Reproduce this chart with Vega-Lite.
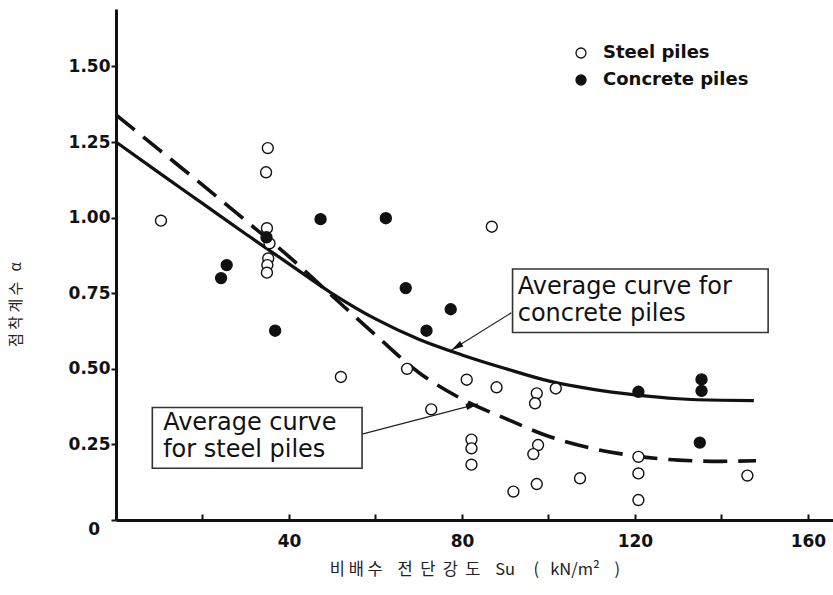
{
  "$schema": "https://vega.github.io/schema/vega-lite/v6.json",
  "width": 717,
  "height": 511,
  "autosize": {"type": "none"},
  "padding": {"left": 116, "top": 9, "right": 0, "bottom": 75},
  "background": "white",
  "config": {
    "view": {"stroke": null},
    "axis": {
      "grid": false,
      "domainColor": "#111",
      "domainWidth": 3,
      "tickColor": "#111",
      "tickWidth": 2,
      "labelFont": "DejaVu Sans",
      "labelFontWeight": "bold",
      "labelFontSize": 17,
      "labelColor": "#111"
    }
  },
  "datasets": {
    "points": [
      {"su": 10.4, "alpha": 0.99, "type": "Steel piles"},
      {"su": 35.1, "alpha": 1.23, "type": "Steel piles"},
      {"su": 34.7, "alpha": 1.15, "type": "Steel piles"},
      {"su": 34.9, "alpha": 0.965, "type": "Steel piles"},
      {"su": 35.5, "alpha": 0.915, "type": "Steel piles"},
      {"su": 35.2, "alpha": 0.865, "type": "Steel piles"},
      {"su": 35.0, "alpha": 0.843, "type": "Steel piles"},
      {"su": 34.9, "alpha": 0.818, "type": "Steel piles"},
      {"su": 52.0, "alpha": 0.473, "type": "Steel piles"},
      {"su": 67.3, "alpha": 0.5, "type": "Steel piles"},
      {"su": 72.9, "alpha": 0.366, "type": "Steel piles"},
      {"su": 81.1, "alpha": 0.464, "type": "Steel piles"},
      {"su": 86.9, "alpha": 0.97, "type": "Steel piles"},
      {"su": 88.0, "alpha": 0.439, "type": "Steel piles"},
      {"su": 82.2, "alpha": 0.266, "type": "Steel piles"},
      {"su": 82.2, "alpha": 0.237, "type": "Steel piles"},
      {"su": 82.2, "alpha": 0.183, "type": "Steel piles"},
      {"su": 97.3, "alpha": 0.419, "type": "Steel piles"},
      {"su": 96.9, "alpha": 0.386, "type": "Steel piles"},
      {"su": 101.7, "alpha": 0.435, "type": "Steel piles"},
      {"su": 97.6, "alpha": 0.248, "type": "Steel piles"},
      {"su": 96.5, "alpha": 0.218, "type": "Steel piles"},
      {"su": 91.9, "alpha": 0.094, "type": "Steel piles"},
      {"su": 97.3, "alpha": 0.119, "type": "Steel piles"},
      {"su": 107.3, "alpha": 0.138, "type": "Steel piles"},
      {"su": 120.8, "alpha": 0.209, "type": "Steel piles"},
      {"su": 120.8, "alpha": 0.154, "type": "Steel piles"},
      {"su": 120.8, "alpha": 0.066, "type": "Steel piles"},
      {"su": 146.0, "alpha": 0.147, "type": "Steel piles"},
      {"su": 24.3, "alpha": 0.8, "type": "Concrete piles"},
      {"su": 25.6, "alpha": 0.843, "type": "Concrete piles"},
      {"su": 34.8, "alpha": 0.935, "type": "Concrete piles"},
      {"su": 36.8, "alpha": 0.626, "type": "Concrete piles"},
      {"su": 47.3, "alpha": 0.995, "type": "Concrete piles"},
      {"su": 62.4, "alpha": 0.998, "type": "Concrete piles"},
      {"su": 67.0, "alpha": 0.767, "type": "Concrete piles"},
      {"su": 71.8, "alpha": 0.626, "type": "Concrete piles"},
      {"su": 77.4, "alpha": 0.697, "type": "Concrete piles"},
      {"su": 120.8, "alpha": 0.424, "type": "Concrete piles"},
      {"su": 135.4, "alpha": 0.465, "type": "Concrete piles"},
      {"su": 135.4, "alpha": 0.427, "type": "Concrete piles"},
      {"su": 135.0, "alpha": 0.256, "type": "Concrete piles"}
    ],
    "concreteCurve": [
      {"su": 0, "alpha": 1.25}, {"su": 10, "alpha": 1.148}, {"su": 20, "alpha": 1.047},
      {"su": 30, "alpha": 0.946}, {"su": 40, "alpha": 0.847}, {"su": 50, "alpha": 0.749},
      {"su": 60, "alpha": 0.665}, {"su": 70, "alpha": 0.598}, {"su": 80, "alpha": 0.546},
      {"su": 90, "alpha": 0.501}, {"su": 100, "alpha": 0.46}, {"su": 110, "alpha": 0.433},
      {"su": 120, "alpha": 0.414}, {"su": 130, "alpha": 0.401}, {"su": 140, "alpha": 0.396},
      {"su": 147.5, "alpha": 0.395}
    ],
    "steelCurve": [
      {"su": 0, "alpha": 1.34}, {"su": 10, "alpha": 1.224}, {"su": 20, "alpha": 1.108},
      {"su": 30, "alpha": 0.99}, {"su": 40, "alpha": 0.871}, {"su": 50, "alpha": 0.741},
      {"su": 60, "alpha": 0.612}, {"su": 70, "alpha": 0.488}, {"su": 80, "alpha": 0.4},
      {"su": 90, "alpha": 0.336}, {"su": 100, "alpha": 0.277}, {"su": 110, "alpha": 0.237},
      {"su": 120, "alpha": 0.212}, {"su": 130, "alpha": 0.198}, {"su": 140, "alpha": 0.194},
      {"su": 148, "alpha": 0.196}
    ],
    "boxes": [
      {"su": 91.7, "su2": 150.8, "alpha": 0.83, "alpha2": 0.62},
      {"su": 8.4, "su2": 56.9, "alpha": 0.372, "alpha2": 0.171}
    ],
    "arrows": [
      {"su": 91.4, "alpha": 0.685, "su2": 77.6, "alpha2": 0.562, "arrow": "concrete"},
      {"su": 56.9, "alpha": 0.284, "su2": 83.7, "alpha2": 0.384, "arrow": "steel"}
    ],
    "heads": [
      {"su": 77.6, "alpha": 0.562, "arrow": "concrete"},
      {"su": 83.7, "alpha": 0.384, "arrow": "steel"}
    ],
    "labels": [
      {"su": 92.9, "alpha": 0.77, "label": "Average curve for"},
      {"su": 92.9, "alpha": 0.681, "label": "concrete piles"},
      {"su": 10.9, "alpha": 0.321, "label": "Average curve"},
      {"su": 10.9, "alpha": 0.231, "label": "for steel piles"}
    ],
    "zero": [
      {"su": 0, "alpha": 0, "label": "0"}
    ]
  },
  "encoding": {
    "x": {
      "field": "su",
      "type": "quantitative",
      "scale": {"domain": [0, 165.8], "nice": false, "zero": false},
      "axis": {
        "title": "비 배 수\u00a0\u00a0\u00a0\u00a0전\u00a0\u00a0단\u00a0\u00a0강\u00a0\u00a0도\u00a0\u00a0\u00a0\u00a0Su\u00a0\u00a0\u00a0\u00a0\u00a0(\u00a0\u00a0\u00a0kN/m²\u00a0\u00a0\u00a0\u00a0)",
        "values": [20, 40, 60, 80, 100, 120, 140, 160],
        "labelExpr": "datum.value % 40 === 0 ? datum.label : ''",
        "tickSize": -6,
        "labelPadding": 19,
        "titleFont": "Noto Sans CJK KR",
        "titleFontSize": 16.5,
        "titleFontWeight": "normal",
        "titleColor": "#222",
        "titlePadding": 12
      }
    },
    "y": {
      "field": "alpha",
      "type": "quantitative",
      "scale": {"domain": [0, 1.69], "nice": false, "zero": false},
      "axis": {
        "title": "점 착 계 수\u00a0\u00a0\u00a0α",
        "values": [0, 0.25, 0.5, 0.75, 1, 1.25, 1.5],
        "labelExpr": "datum.value === 0 ? '' : format(datum.value, '.2f')",
        "tickSize": 5,
        "labelPadding": 1,
        "titleFont": "Noto Sans CJK KR",
        "titleFontSize": 15,
        "titleFontWeight": "normal",
        "titleColor": "#222",
        "titleX": -101,
        "titleY": 295,
        "titleAlign": "center",
        "titleBaseline": "middle"
      }
    }
  },
  "layer": [
    {
      "data": {"name": "concreteCurve"},
      "mark": {"type": "line", "interpolate": "monotone", "color": "#111", "strokeWidth": 3.2}
    },
    {
      "data": {"name": "steelCurve"},
      "mark": {"type": "line", "interpolate": "monotone", "color": "#111", "strokeWidth": 3.6, "strokeDash": [24, 11]}
    },
    {
      "data": {"name": "arrows"},
      "mark": {"type": "rule", "color": "#222", "strokeWidth": 1.2},
      "encoding": {"x2": {"field": "su2"}, "y2": {"field": "alpha2"}}
    },
    {
      "data": {"name": "heads"},
      "transform": [{"filter": "datum.arrow === 'concrete'"}],
      "mark": {"type": "point", "shape": "M0,0L-2.4,-0.65L-2.4,0.65Z", "filled": true, "color": "#111", "size": 100, "angle": 148, "opacity": 1},
      "encoding": {}
    },
    {
      "data": {"name": "heads"},
      "transform": [{"filter": "datum.arrow === 'steel'"}],
      "mark": {"type": "point", "shape": "M0,0L-2.4,-0.65L-2.4,0.65Z", "filled": true, "color": "#111", "size": 100, "angle": 345.5, "opacity": 1},
      "encoding": {}
    },
    {
      "data": {"name": "points"},
      "mark": {"type": "point", "shape": "circle", "filled": true, "stroke": "#111", "strokeWidth": 1.4, "size": 120, "opacity": 1},
      "encoding": {
        "fill": {
          "field": "type",
          "type": "nominal",
          "scale": {"domain": ["Steel piles", "Concrete piles"], "range": ["white", "#111"]},
          "legend": {
            "orient": "none",
            "legendX": 456,
            "legendY": 35,
            "title": null,
            "labelFont": "DejaVu Sans",
            "labelFontWeight": "bold",
            "labelFontSize": 18,
            "labelColor": "#111",
            "symbolSize": 100,
            "symbolType": "circle",
            "symbolStrokeColor": "#111",
            "symbolStrokeWidth": 1.3,
            "rowPadding": 9,
            "labelOffset": 13
          }
        }
      }
    },
    {
      "data": {"name": "boxes"},
      "mark": {"type": "rect", "fill": "white", "stroke": "#333", "strokeWidth": 1.6},
      "encoding": {"x2": {"field": "su2"}, "y2": {"field": "alpha2"}}
    },
    {
      "data": {"name": "labels"},
      "mark": {"type": "text", "align": "left", "baseline": "middle", "font": "DejaVu Sans", "fontSize": 24, "color": "#111"},
      "encoding": {"text": {"field": "label", "type": "nominal"}}
    },
    {
      "data": {"name": "zero"},
      "mark": {"type": "text", "align": "right", "baseline": "middle", "dx": -16, "dy": 10, "font": "DejaVu Sans", "fontWeight": "bold", "fontSize": 17, "color": "#111"},
      "encoding": {"text": {"field": "label", "type": "nominal"}}
    }
  ]
}
